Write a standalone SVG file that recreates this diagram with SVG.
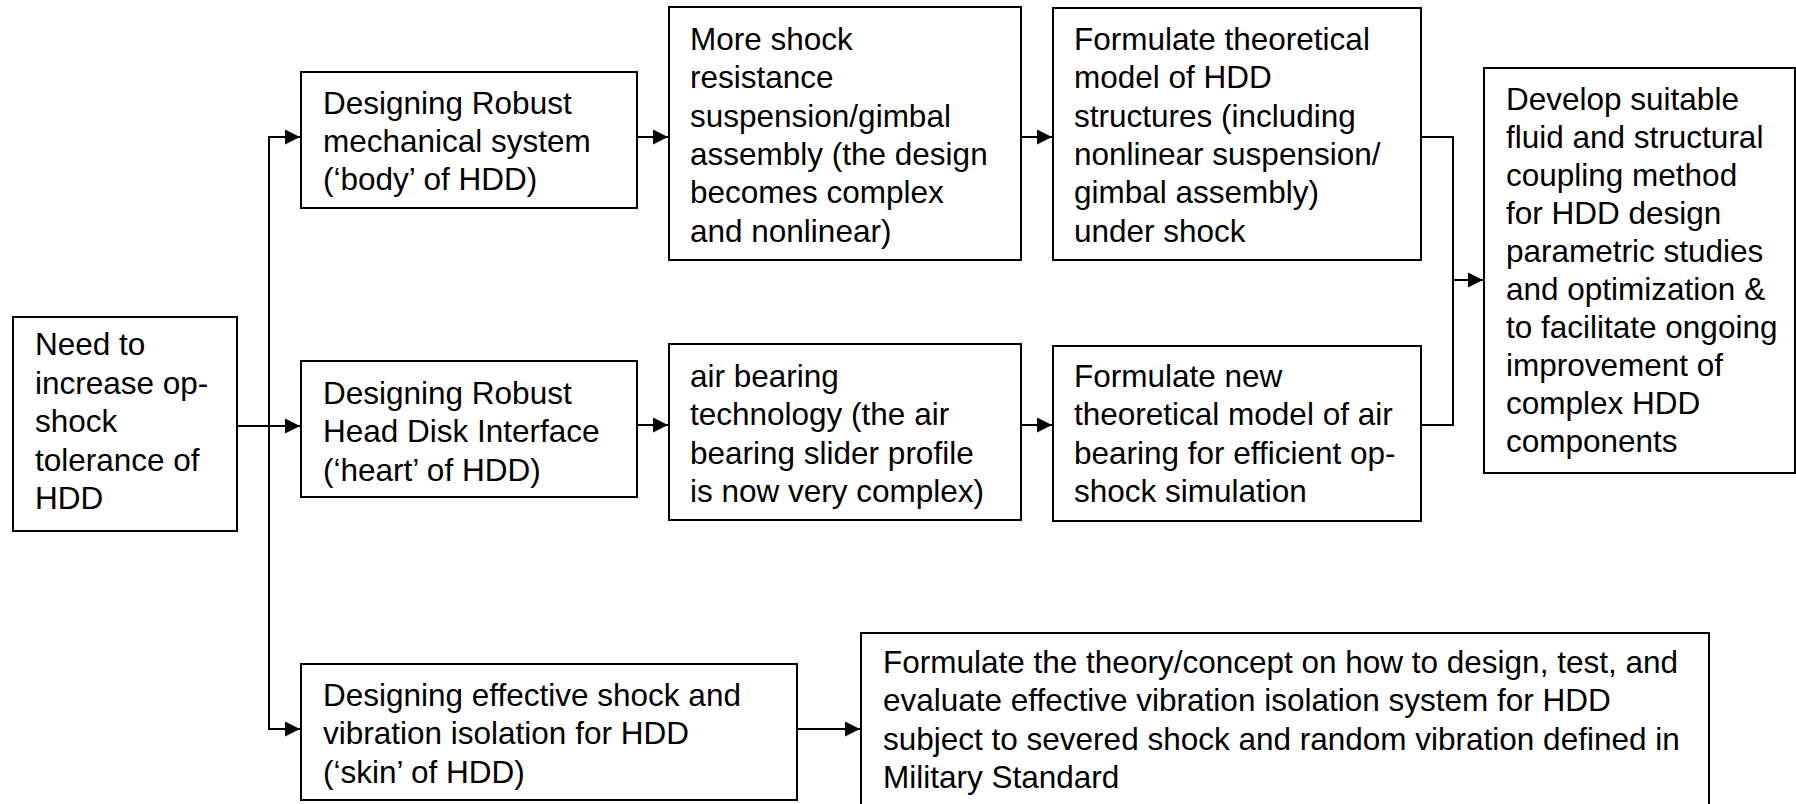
<svg xmlns="http://www.w3.org/2000/svg" width="1796" height="804" viewBox="0 0 1796 804">
<style>
.box{fill:#fff;stroke:#000;stroke-width:2}
.t{font-family:"Liberation Sans",Arial,sans-serif;font-size:31.5px;fill:#000}
.c{fill:none;stroke:#000;stroke-width:2}
</style>
<defs>
<marker id="ah" markerUnits="userSpaceOnUse" markerWidth="18" markerHeight="18" viewBox="0 0 18 18" refX="16" refY="9" orient="auto">
<path d="M1,1.5 L16,9 L1,16.5 Z" fill="#000"/>
</marker>
</defs>
<rect width="1796" height="804" fill="#fff"/>
<g id="connectors">
<line class="c" x1="237" y1="426" x2="300" y2="426" marker-end="url(#ah)"/>
<polyline class="c" points="300,137 269,137 269,729 300,729" marker-end="url(#ah)"/>
<path class="c" d="M269,137 L300,137" marker-end="url(#ah)"/>
<line class="c" x1="637" y1="137" x2="668" y2="137" marker-end="url(#ah)"/>
<line class="c" x1="1021" y1="137" x2="1052" y2="137" marker-end="url(#ah)"/>
<line class="c" x1="637" y1="425" x2="668" y2="425" marker-end="url(#ah)"/>
<line class="c" x1="1021" y1="425" x2="1052" y2="425" marker-end="url(#ah)"/>
<polyline class="c" points="1421,137 1453,137 1453,425 1421,425"/>
<line class="c" x1="1453" y1="280" x2="1483" y2="280" marker-end="url(#ah)"/>
<line class="c" x1="797" y1="729" x2="860" y2="729" marker-end="url(#ah)"/>
</g>
<g id="nodeA">
<rect class="box" x="13" y="317" width="224" height="214"/>
<text class="t"><tspan x="35" y="355">Need to</tspan><tspan x="35" y="393.5">increase op-</tspan><tspan x="35" y="432">shock</tspan><tspan x="35" y="470.5">tolerance of</tspan><tspan x="35" y="509">HDD</tspan></text>
</g>
<g id="nodeB">
<rect class="box" x="301" y="72" width="336" height="136"/>
<text class="t"><tspan x="323" y="113.5">Designing Robust</tspan><tspan x="323" y="151.8">mechanical system</tspan><tspan x="323" y="190">(‘body’ of HDD)</tspan></text>
</g>
<g id="nodeB2">
<rect class="box" x="669" y="7" width="352" height="253"/>
<text class="t"><tspan x="690" y="50">More shock</tspan><tspan x="690" y="88.3">resistance</tspan><tspan x="690" y="126.6">suspension/gimbal</tspan><tspan x="690" y="165">assembly (the design</tspan><tspan x="690" y="203.3">becomes complex</tspan><tspan x="690" y="241.6">and nonlinear)</tspan></text>
</g>
<g id="nodeB3">
<rect class="box" x="1053" y="8" width="368" height="252"/>
<text class="t"><tspan x="1074" y="50">Formulate theoretical</tspan><tspan x="1074" y="88.3">model of HDD</tspan><tspan x="1074" y="126.6">structures (including</tspan><tspan x="1074" y="165">nonlinear suspension/</tspan><tspan x="1074" y="203.3">gimbal assembly)</tspan><tspan x="1074" y="241.6">under shock</tspan></text>
</g>
<g id="nodeF">
<rect class="box" x="1484" y="68" width="311" height="405"/>
<text class="t"><tspan x="1506" y="110">Develop suitable</tspan><tspan x="1506" y="148">fluid and structural</tspan><tspan x="1506" y="186">coupling method</tspan><tspan x="1506" y="224">for HDD design</tspan><tspan x="1506" y="262">parametric studies</tspan><tspan x="1506" y="300">and optimization &amp;</tspan><tspan x="1506" y="338">to facilitate ongoing</tspan><tspan x="1506" y="376">improvement of</tspan><tspan x="1506" y="414">complex HDD</tspan><tspan x="1506" y="452">components</tspan></text>
</g>
<g id="nodeC">
<rect class="box" x="301" y="361" width="336" height="136"/>
<text class="t"><tspan x="323" y="404">Designing Robust</tspan><tspan x="323" y="442.3">Head Disk Interface</tspan><tspan x="323" y="480.6">(‘heart’ of HDD)</tspan></text>
</g>
<g id="nodeC2">
<rect class="box" x="669" y="344" width="352" height="176"/>
<text class="t"><tspan x="690" y="387">air bearing</tspan><tspan x="690" y="425.3">technology (the air</tspan><tspan x="690" y="463.6">bearing slider profile</tspan><tspan x="690" y="502">is now very complex)</tspan></text>
</g>
<g id="nodeC3">
<rect class="box" x="1053" y="346" width="368" height="175"/>
<text class="t"><tspan x="1074" y="387">Formulate new</tspan><tspan x="1074" y="425.3">theoretical model of air</tspan><tspan x="1074" y="463.6">bearing for efficient op-</tspan><tspan x="1074" y="502">shock simulation</tspan></text>
</g>
<g id="nodeD">
<rect class="box" x="301" y="664" width="496" height="136"/>
<text class="t"><tspan x="323" y="706">Designing effective shock and</tspan><tspan x="323" y="744.3">vibration isolation for HDD</tspan><tspan x="323" y="782.6">(‘skin’ of HDD)</tspan></text>
</g>
<g id="nodeE">
<rect class="box" x="861" y="633" width="848" height="175"/>
<text class="t"><tspan x="883" y="673">Formulate the theory/concept on how to design, test, and</tspan><tspan x="883" y="711.3">evaluate effective vibration isolation system for HDD</tspan><tspan x="883" y="749.6">subject to severed shock and random vibration defined in</tspan><tspan x="883" y="788">Military Standard</tspan></text>
</g>
</svg>
